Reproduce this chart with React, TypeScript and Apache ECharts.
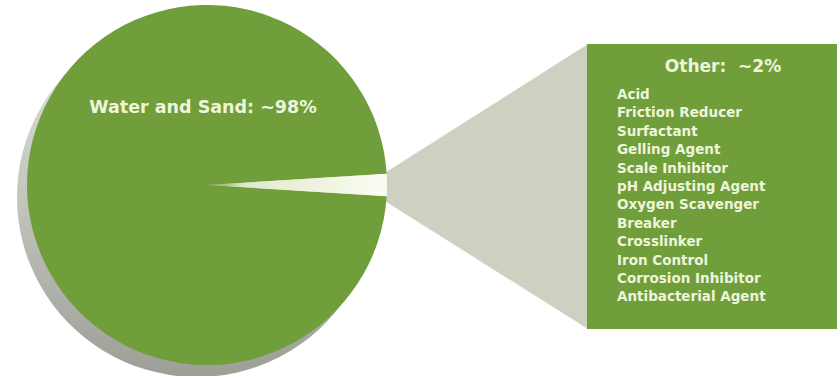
import React, { useEffect, useRef } from "react";
import * as echarts from "echarts";

const sliceNames = ["Water and Sand", "Other"];
const sliceValues = [98, 2];
const sliceLabels = ["Water and Sand: ~98%", "Other:  ~2%"];
const otherComponents = [
  "Acid",
  "Friction Reducer",
  "Surfactant",
  "Gelling Agent",
  "Scale Inhibitor",
  "pH Adjusting Agent",
  "Oxygen Scavenger",
  "Breaker",
  "Crosslinker",
  "Iron Control",
  "Corrosion Inhibitor",
  "Antibacterial Agent",
];

const GREEN = "#6f9e3b";
const TEXT = "#eef5dc";
const CONNECTOR = "#ccd1c1";
const FONT = "'DejaVu Sans', 'Open Sans', sans-serif";

export default function App() {
  const ref = useRef<HTMLDivElement>(null);
  useEffect(() => {
    if (!ref.current) return;
    const chart = echarts.init(ref.current, null, { renderer: "svg" });
    const cx = 207;
    const cy = 185;
    const r = 180;
    const shadowGrad = new echarts.graphic.LinearGradient(0, 0, 0, 1, [
      { offset: 0, color: "#dfe2d9" },
      { offset: 0.5, color: "#c3c6bd" },
      { offset: 1, color: "#9c9e97" },
    ]);
    const data = sliceNames.map((n, i) => ({ name: n, value: sliceValues[i] }));
    chart.setOption({
      animation: false,
      backgroundColor: "#ffffff",
      series: [
        {
          type: "pie",
          silent: true,
          z: 1,
          center: [cx - 10, cy + 12],
          radius: [0, r],
          startAngle: 356.4,
          label: { show: false },
          labelLine: { show: false },
          itemStyle: { color: shadowGrad, borderWidth: 0 },
          data,
        },
        {
          type: "pie",
          silent: true,
          z: 2,
          center: [cx, cy],
          radius: [0, r],
          startAngle: 356.4,
          label: { show: false },
          labelLine: { show: false },
          data: data.map((d, i) => ({
            ...d,
            itemStyle:
              i === 0
                ? { color: GREEN, borderWidth: 0 }
                : {
                    borderWidth: 0,
                    color: new echarts.graphic.LinearGradient(0, 0, 1, 0, [
                      { offset: 0, color: GREEN },
                      { offset: 0.2, color: "#dfe9c9" },
                      { offset: 1, color: "#fbfdf4" },
                    ]),
                  },
          })),
        },
      ],
      graphic: [
        {
          type: "polygon",
          z: 0,
          shape: {
            points: [
              [380, 176],
              [588, 44],
              [588, 329],
              [380, 198],
            ],
          },
          style: { fill: CONNECTOR },
        },
        {
          type: "rect",
          z: 5,
          shape: { x: 587, y: 44, width: 250, height: 285 },
          style: { fill: GREEN },
        },
        {
          type: "text",
          z: 10,
          x: 203,
          y: 107,
          style: {
            text: sliceLabels[0],
            fill: TEXT,
            font: `bold 17.5px ${FONT}`,
            align: "center",
            verticalAlign: "middle",
          },
        },
        {
          type: "text",
          z: 10,
          x: 723,
          y: 66,
          style: {
            text: sliceLabels[1],
            fill: TEXT,
            font: `bold 17px ${FONT}`,
            align: "center",
            verticalAlign: "middle",
          },
        },
        ...otherComponents.map((t, i) => ({
          type: "text",
          z: 10,
          x: 617,
          y: 94 + i * 18.4,
          style: {
            text: t,
            fill: TEXT,
            font: `bold 13.5px ${FONT}`,
            align: "left",
            verticalAlign: "middle",
          },
        })),
      ],
    });
    return () => chart.dispose();
  }, []);
  return (
    <div
      ref={ref}
      style={{ position: "fixed", left: 0, top: 0, width: 837, height: 376 }}
    />
  );
}
